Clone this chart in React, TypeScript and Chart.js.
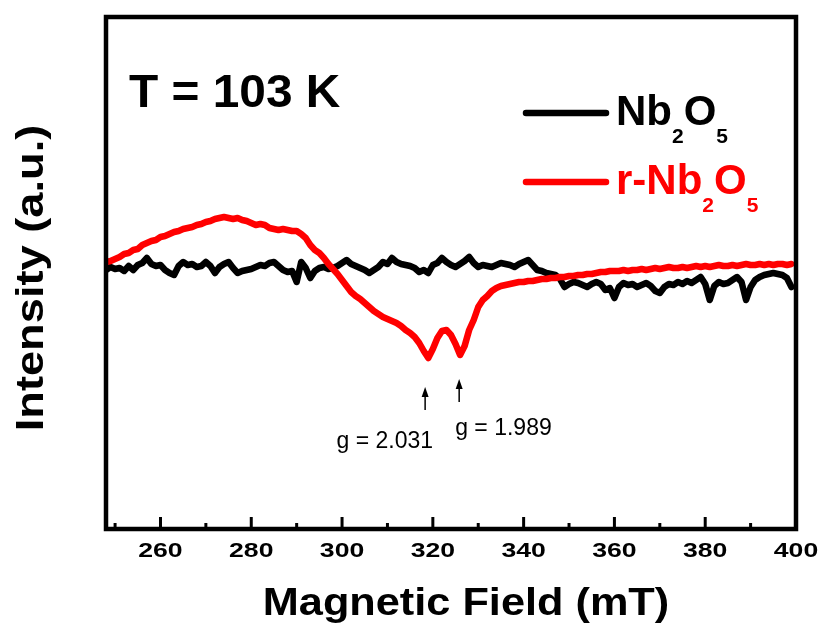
import React, { useEffect, useRef } from 'react';
import { Chart, registerables } from 'chart.js';

Chart.register(...registerables);

// ---------- data ----------
const FIELD_MT = [
  248, 249, 250, 251, 252, 253, 254, 255, 256, 257,
  258, 259, 260, 261, 262, 263, 264, 265, 266, 267,
  268, 269, 270, 271, 272, 273, 274, 275, 276, 277,
  278, 279, 280, 281, 282, 283, 284, 285, 286, 287,
  288, 289, 290, 291, 292, 293, 294, 295, 296, 297,
  298, 299, 300, 301, 302, 303, 304, 305, 306, 307,
  308, 309, 310, 311, 312, 313, 314, 315, 316, 317,
  318, 319, 320, 321, 322, 323, 324, 325, 326, 327,
  328, 329, 330, 331, 332, 333, 334, 335, 336, 337,
  338, 339, 340, 341, 342, 343, 344, 345, 346, 347,
  348, 349, 350, 351, 352, 353, 354, 355, 356, 357,
  358, 359, 360, 361, 362, 363, 364, 365, 366, 367,
  368, 369, 370, 371, 372, 373, 374, 375, 376, 377,
  378, 379, 380, 381, 382, 383, 384, 385, 386, 387,
  388, 389, 390, 391, 392, 393, 394, 395, 396, 397,
  398, 399,
];

const NB2O5 = [
  -0.2, 0.1, -0.1, 0.0, -0.3, 0.2, -0.2, 0.3, 0.5, 1.0,
  0.4, 0.2, 0.3, -0.2, -0.5, -0.7, 0.2, 0.6, 0.3, 0.4,
  0.1, 0.2, 0.6, 0.2, -0.5, 0.1, 0.4, 0.6, 0.0, -0.5,
  -0.3, -0.2, -0.1, 0.1, 0.3, 0.2, 0.5, 0.6, 0.2, -0.2,
  -0.4, -0.3, -1.4, 0.6, 0.0, -1.0, -0.3, 0.0, 0.1, -0.1,
  0.0, 0.2, 0.5, 0.8, 0.4, 0.2, 0.0, -0.2, -0.5, -0.2,
  0.1, 0.6, 0.4, 1.0, 0.6, 0.4, 0.3, 0.2, 0.0, -0.4,
  -0.2, -0.5, 0.3, 0.5, 1.0, 0.6, 0.3, 0.1, 0.4, 0.7,
  1.1, 0.5, 0.1, 0.3, 0.2, 0.1, 0.3, 0.5, 0.4, 0.3,
  0.1, 0.4, 0.6, 0.8, 0.3, -0.2, -0.3, -0.5, -0.6, -0.7,
  -1.1, -1.9, -1.6, -1.4, -1.5, -1.7, -1.9, -1.6, -1.4, -1.6,
  -2.2, -2.0, -3.0, -1.9, -1.5, -1.7, -1.6, -1.9, -1.7, -1.5,
  -1.8, -2.3, -2.5, -1.9, -1.6, -1.7, -1.4, -1.6, -1.3, -1.5,
  -1.2, -0.9, -1.6, -3.2, -1.8, -1.4, -1.6, -1.5, -1.2, -0.9,
  -1.4, -3.2, -1.9, -1.2, -0.9, -0.7, -0.6, -0.5, -0.6, -0.7,
  -1.0, -1.9,
];

const R_NB2O5 = [
  0.6, 0.7, 0.9, 1.1, 1.4, 1.5, 1.8, 1.9, 2.3, 2.5,
  2.7, 2.8, 3.1, 3.2, 3.4, 3.6, 3.7, 3.9, 4.0, 4.1,
  4.3, 4.4, 4.6, 4.7, 4.9, 5.0, 5.1, 5.0, 4.9, 5.0,
  4.8, 4.7, 4.5, 4.3, 4.4, 4.3, 4.0, 3.9, 3.8, 3.9,
  3.8, 3.7, 3.7, 3.4, 3.0, 2.3, 1.8, 1.5, 1.0, 0.4,
  -0.1, -0.6, -1.2, -1.8, -2.4, -2.8, -3.1, -3.5, -3.9, -4.3,
  -4.6, -4.9, -5.1, -5.3, -5.5, -5.8, -6.2, -6.5, -6.9, -7.5,
  -8.3, -9.0, -8.1, -7.0, -6.3, -6.2, -6.7, -7.6, -8.7, -7.8,
  -6.2, -5.2, -3.9, -3.2, -2.8, -2.3, -2.0, -1.8, -1.7, -1.6,
  -1.5, -1.4, -1.4, -1.3, -1.3, -1.2, -1.1, -1.1, -1.0, -1.0,
  -0.9, -0.9, -0.8, -0.8, -0.7, -0.7, -0.6, -0.6, -0.5, -0.4,
  -0.4, -0.3, -0.3, -0.3, -0.2, -0.3, -0.2, -0.2, -0.1, -0.2,
  -0.1, 0.0, -0.1, 0.0, 0.1, 0.0, 0.0, 0.1, 0.0, 0.1,
  0.2, 0.1, 0.2, 0.1, 0.2, 0.3, 0.2, 0.2, 0.3, 0.2,
  0.3, 0.4, 0.3, 0.3, 0.4, 0.3, 0.4, 0.3, 0.4, 0.4,
  0.3, 0.4,
];

const X_MAJOR_TICKS = [260, 280, 300, 320, 340, 360, 380, 400];
const X_MINOR_TICKS = [250, 270, 290, 310, 330, 350, 370, 390];
const X_MIN = 248;
const X_MAX = 400;
const Y_MIN = -26.1;
const Y_MAX = 25.1;

const G_FIELDS = [318.3, 325.8];
const G_LABELS = ['g = 2.031', 'g = 1.989'];

const TEMPERATURE_LABEL = 'T = 103 K';
const X_TITLE = 'Magnetic Field (mT)';
const Y_TITLE = 'Intensity (a.u.)';

const LEGEND_BLACK = [['Nb', false], ['2', true], ['O', false], ['5', true]] as [string, boolean][];
const LEGEND_RED = [['r-Nb', false], ['2', true], ['O', false], ['5', true]] as [string, boolean][];

const FONT = '"Liberation Sans", Arial, sans-serif';

function stretchedText(
  ctx: CanvasRenderingContext2D,
  text: string,
  x: number,
  y: number,
  font: string,
  color: string,
  align: CanvasTextAlign,
  sx: number,
  rotate = 0
) {
  ctx.save();
  ctx.translate(x, y);
  if (rotate) ctx.rotate(rotate);
  ctx.scale(sx, 1);
  ctx.font = font;
  ctx.fillStyle = color;
  ctx.textAlign = align;
  ctx.textBaseline = 'alphabetic';
  ctx.fillText(text, 0, 0);
  ctx.restore();
}

function drawSubText(
  ctx: CanvasRenderingContext2D,
  pieces: [string, boolean][],
  x: number,
  baseline: number,
  color: string
) {
  let cx = x;
  ctx.save();
  ctx.fillStyle = color;
  ctx.textAlign = 'left';
  ctx.textBaseline = 'alphabetic';
  for (const [t, sub] of pieces) {
    ctx.font = sub ? `bold 21px ${FONT}` : `bold 42px ${FONT}`;
    ctx.fillText(t, cx, sub ? baseline + 18 : baseline);
    cx += ctx.measureText(t).width;
  }
  ctx.restore();
}

const decorPlugin = {
  id: 'decor',
  afterDraw(chart: any) {
    const ctx: CanvasRenderingContext2D = chart.ctx;
    const area = chart.chartArea;
    const xs = chart.scales.x;

    // frame
    ctx.save();
    ctx.strokeStyle = '#000';
    ctx.lineWidth = 4.5;
    ctx.lineJoin = 'miter';
    ctx.strokeRect(area.left, area.top, area.right - area.left, area.bottom - area.top);

    // inward ticks on bottom axis
    ctx.lineWidth = 3;
    ctx.lineCap = 'butt';
    for (const v of X_MAJOR_TICKS) {
      const px = xs.getPixelForValue(v);
      ctx.beginPath();
      ctx.moveTo(px, area.bottom);
      ctx.lineTo(px, area.bottom - 12);
      ctx.stroke();
    }
    for (const v of X_MINOR_TICKS) {
      const px = xs.getPixelForValue(v);
      ctx.beginPath();
      ctx.moveTo(px, area.bottom);
      ctx.lineTo(px, area.bottom - 6);
      ctx.stroke();
    }
    ctx.restore();

    // tick labels (positioned through the x scale)
    for (const v of X_MAJOR_TICKS) {
      const px = xs.getPixelForValue(v);
      stretchedText(ctx, String(v), px, area.bottom + 28, `bold 20px ${FONT}`, '#000', 'center', 1.33);
    }

    // axis titles
    stretchedText(ctx, X_TITLE, 466, 615, `bold 39px ${FONT}`, '#000', 'center', 1.11);
    stretchedText(ctx, Y_TITLE, 43, 278, `bold 39px ${FONT}`, '#000', 'center', 1.16, -Math.PI / 2);

    // temperature label
    stretchedText(ctx, TEMPERATURE_LABEL, 129, 107, `bold 46px ${FONT}`, '#000', 'left', 1.04);

    // legend
    ctx.save();
    ctx.lineCap = 'round';
    ctx.lineWidth = 6.5;
    ctx.strokeStyle = '#000';
    ctx.beginPath();
    ctx.moveTo(526, 113);
    ctx.lineTo(606, 113);
    ctx.stroke();
    ctx.strokeStyle = '#ff0000';
    ctx.beginPath();
    ctx.moveTo(526, 182);
    ctx.lineTo(606, 182);
    ctx.stroke();
    ctx.restore();
    drawSubText(ctx, LEGEND_BLACK, 616, 125, '#000');
    drawSubText(ctx, LEGEND_RED, 616, 194, '#ff0000');

    // g-value arrows and labels
    const arrowTips = [387, 379];
    const arrowLen = 23;
    ctx.save();
    ctx.strokeStyle = '#000';
    ctx.fillStyle = '#000';
    ctx.lineWidth = 1.5;
    G_FIELDS.forEach((f, i) => {
      const px = xs.getPixelForValue(f);
      const tip = arrowTips[i];
      ctx.beginPath();
      ctx.moveTo(px, tip + 6);
      ctx.lineTo(px, tip + arrowLen);
      ctx.stroke();
      ctx.beginPath();
      ctx.moveTo(px, tip);
      ctx.lineTo(px - 3.5, tip + 10);
      ctx.lineTo(px + 3.5, tip + 10);
      ctx.closePath();
      ctx.fill();
    });
    ctx.restore();
    const p0 = xs.getPixelForValue(G_FIELDS[0]);
    const p1 = xs.getPixelForValue(G_FIELDS[1]);
    stretchedText(ctx, G_LABELS[0], p0 + 8, 448, `23px ${FONT}`, '#000', 'right', 1.0);
    stretchedText(ctx, G_LABELS[1], p1 - 4, 435, `23px ${FONT}`, '#000', 'left', 1.0);
  },
};

export default function App() {
  const canvasRef = useRef<HTMLCanvasElement | null>(null);

  useEffect(() => {
    const canvas = canvasRef.current;
    if (!canvas) return;
    const chart = new Chart(canvas, {
      type: 'line',
      data: {
        datasets: [
          {
            label: 'r-Nb2O5',
            data: FIELD_MT.map((x, i) => ({ x, y: R_NB2O5[i] })),
            borderColor: '#ff0000',
            backgroundColor: '#ff0000',
            borderWidth: 6.5,
            pointRadius: 0,
            tension: 0,
            borderJoinStyle: 'round',
            borderCapStyle: 'round',
            fill: false,
          },
          {
            label: 'Nb2O5',
            data: FIELD_MT.map((x, i) => ({ x, y: NB2O5[i] })),
            borderColor: '#000000',
            backgroundColor: '#000000',
            borderWidth: 6.5,
            pointRadius: 0,
            tension: 0,
            borderJoinStyle: 'round',
            borderCapStyle: 'round',
            fill: false,
          },
        ],
      },
      options: {
        responsive: false,
        animation: false,
        events: [],
        layout: { padding: { top: 17, right: 29, left: 0, bottom: 0 } },
        plugins: {
          legend: { display: false },
          tooltip: { enabled: false },
          title: { display: false },
        },
        scales: {
          x: {
            type: 'linear',
            min: X_MIN,
            max: X_MAX,
            afterBuildTicks: (s: any) => {
              s.ticks = X_MAJOR_TICKS.map((v) => ({ value: v }));
            },
            afterFit: (s: any) => {
              s.height = 97;
            },
            grid: { display: false, drawTicks: false },
            border: { display: false },
            ticks: { display: false },
          },
          y: {
            type: 'linear',
            min: Y_MIN,
            max: Y_MAX,
            afterFit: (s: any) => {
              s.width = 106;
            },
            grid: { display: false, drawTicks: false },
            border: { display: false },
            ticks: { display: false },
          },
        },
      } as any,
      plugins: [decorPlugin],
    });
    return () => chart.destroy();
  }, []);

  return (
    <div style={{ position: 'absolute', left: 0, top: 0, width: 825, height: 626, background: '#fff' }}>
      <canvas ref={canvasRef} width={825} height={626} style={{ display: 'block' }} />
    </div>
  );
}
